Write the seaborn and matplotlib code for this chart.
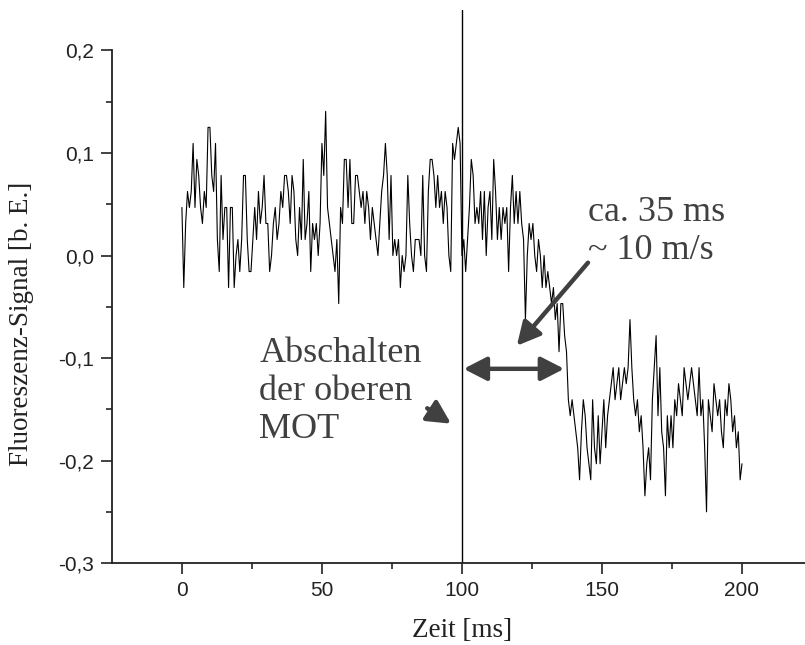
import numpy as np
import pandas as pd
import matplotlib
matplotlib.use("Agg")
import matplotlib.pyplot as plt
import seaborn as sns

# Fluoreszenz-Signal in ADC-Stufen (1 Stufe = 1/64 b. E.)
counts_vor = [
    3, -2, 2, 4, 3, 4, 7, 3, 6, 5,
    3, 2, 4, 3, 8, 8, 5, 4, 7, 1,
    -1, 5, 1, 3, 3, -2, 3, 3, -2, 0,
    1, -1, 1, 5, 5, 1, -1, -1, 1, 3,
    1, 4, 2, 3, 5, 2, 2, -1, 0, 2,
    3, 1, 2, 4, 3, 5, 5, 4, 2, 5,
    4, 1, 0, 3, 1, 6, 1, 2, 4, -1,
    2, 1, 2, 0, 2, 7, 5, 9, 3, 2,
    1, 0, -1, 1, -3, 3, 2, 6, 6, 3,
    6, 2, 2, 5, 5, 4, 3, 4, 2, 4,
    3, 1, 3, 2, 1, 0, 2, 4, 5, 7,
    5, 1, 5, 0, 1, 0, 1, -2, 0, -1,
    0, 5, 2, 0, -1, 1, 1, 1, 0, 5,
    0, -1, 4, 6, 6, 5, 3, 5, 3, 4,
    2, 4, 3, 0, -1, 7, 6, 7, 8, 7,
]
counts_nach = [
    0, 1, -1, 1, 3, 6, 5, 2, 3, 2,
    4, 1, 4, 0, 3, 4, 1, 6, 4, 1,
    3, 1, 3, 2, 3, -1, 3, 5, 2, 4,
    2, 4, 2, 1, -4, 0, 2, 1, 2, 0,
    -1, 1, 0, -2, 0, -2, -1, -2, -3, -2,
    -4, -3, -6, -3, -3, -5, -6, -9, -10, -9,
    -10, -11, -12, -14, -11, -9, -10, -12, -13, -14,
    -9, -12, -13, -10, -13, -11, -9, -12, -10, -9,
    -8, -7, -9, -8, -7, -9, -8, -7, -8, -7,
    -4, -7, -9, -10, -9, -11, -10, -12, -15, -13,
    -12, -14, -9, -7, -5, -10, -7, -11, -12, -15,
    -10, -12, -10, -12, -9, -10, -8, -9, -10, -7,
    -8, -9, -8, -7, -8, -9, -10, -7, -10, -9,
    -12, -16, -9, -10, -11, -8, -9, -10, -9, -11,
    -12, -9, -10, -8, -9, -11, -10, -12, -11, -14,
    -13,
]
t_start, t_ende = 0, 200
t_aus = 100  # Abschalten der oberen MOT
x_ticks = [0, 50, 100, 150, 200]
y_ticks = [-0.3, -0.2, -0.1, 0.0, 0.1, 0.2]
y_labels = ["-0,3", "-0,2", "-0,1", "0,0", "0,1", "0,2"]

counts = counts_vor + counts_nach
df = pd.DataFrame({
    "zeit": np.linspace(t_start, t_ende, len(counts)),
    "signal": np.array(counts) / 64.0,
})

sns.set_style("ticks")
plt.rcParams["font.family"] = ["Liberation Sans", "DejaVu Sans"]
serif = ["Liberation Serif", "DejaVu Serif"]
grau = "#404040"

fig = plt.figure(figsize=(8.05, 6.45), dpi=100)
ax = fig.add_axes([0.139, 0.127, 0.861, 0.8575])

sns.lineplot(data=df, x="zeit", y="signal", color="black", lw=0.8, ax=ax)
ax.axvline(t_aus, color="black", lw=1.0)

ax.set_xlim(-25, 222.5)
ax.set_ylim(-0.3, 0.2395)
ax.set_xticks(x_ticks)
ax.set_xticks([25, 75, 125, 175], minor=True)
ax.set_yticks(y_ticks)
ax.set_yticklabels(y_labels)
ax.set_yticks([-0.25, -0.15, -0.05, 0.05, 0.15], minor=True)
ax.tick_params(which="major", length=8, width=1.2, labelsize=15, colors="#222222", pad=5)
ax.tick_params(which="minor", length=4, width=1.2)
sns.despine(ax=ax)
ax.spines["left"].set_bounds(-0.3, 0.2)
for s in ["left", "bottom"]:
    ax.spines[s].set_linewidth(1.3)
    ax.spines[s].set_color("#222222")

ax.set_xlabel("Zeit [ms]", fontsize=19.5, family=serif, color="#222222")
ax.set_ylabel("Fluoreszenz-Signal [b. E.]", fontsize=19.5, family=serif, color="#222222")
ax.xaxis.set_label_coords(0.505, -0.1)
ax.yaxis.set_label_coords(-0.112, 0.432)

# Beschriftungen und Pfeile
ax.text(27.6, -0.079, "Abschalten\nder oberen\nMOT", fontsize=26, family=serif,
        color=grau, va="top", ha="left", linespacing=1.2)
ax.text(145, 0.058, "ca. 35 ms\n~ 10 m/s", fontsize=26, family=serif,
        color=grau, va="top", ha="left", linespacing=1.2)

kopf = dict(color=grau, lw=3.2, shrinkA=0, shrinkB=0, mutation_scale=20)
ax.annotate("", xy=(136.5, -0.1105), xytext=(100.6, -0.1105),
            arrowprops=dict(arrowstyle="<|-|>,head_length=0.7,head_width=0.36", **kopf))
ax.annotate("", xy=(119.6, -0.088), xytext=(145, -0.007),
            arrowprops=dict(arrowstyle="-|>,head_length=0.7,head_width=0.36", **kopf))
ax.annotate("", xy=(96.1, -0.164), xytext=(87.6, -0.149),
            arrowprops=dict(arrowstyle="-|>,head_length=0.7,head_width=0.36", **kopf))

fig.savefig("out.png", dpi=100)
